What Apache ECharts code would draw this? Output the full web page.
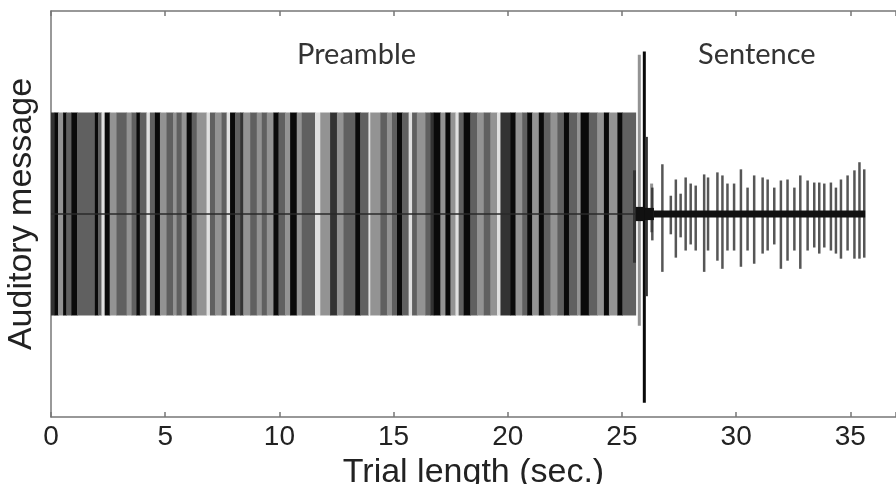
<!DOCTYPE html>
<html>
<head>
<meta charset="utf-8">
<script src="https://cdn.jsdelivr.net/npm/echarts@6/dist/echarts.min.js"></script>
<style>
    html, body { margin: 0; padding: 0; background: #fff; }
    #chart { width: 896px; height: 484px; }
</style>
</head>
<body>
<div id="chart"></div>
<script>
// x轴刻度
var xTicks = [0, 5, 10, 15, 20, 25, 30, 35]

// 前导段条纹: [开始, 结束, 灰度等级] 0黑 1深灰 2灰 3浅灰 4白
var preambleStripes = [
    [0, 0.16, 1], [0.16, 0.31, 0], [0.31, 0.53, 3], [0.53, 0.67, 0], [0.67, 0.89, 2],
    [0.89, 1.14, 0], [1.14, 1.92, 2], [1.92, 2.06, 0], [2.06, 2.21, 2], [2.21, 2.35, 4],
    [2.35, 2.57, 0], [2.57, 2.87, 3], [2.87, 3.31, 2], [3.31, 3.53, 3], [3.53, 3.74, 2],
    [3.74, 3.89, 0], [3.89, 4.18, 2], [4.18, 4.33, 4], [4.33, 4.55, 2], [4.55, 4.77, 0],
    [4.77, 5.06, 3], [5.06, 5.35, 2], [5.35, 5.5, 3], [5.5, 5.72, 2], [5.72, 5.94, 3],
    [5.94, 6.16, 0], [6.16, 6.38, 2], [6.38, 6.81, 3], [6.81, 6.96, 4], [6.96, 7.18, 2],
    [7.18, 7.47, 3], [7.47, 7.69, 2], [7.69, 7.84, 4], [7.84, 8.06, 0], [8.06, 8.28, 2],
    [8.28, 8.42, 1], [8.42, 8.72, 3], [8.72, 9.01, 2], [9.01, 9.23, 3], [9.23, 9.45, 2],
    [9.45, 9.74, 3], [9.74, 9.96, 0], [9.96, 10.25, 2], [10.25, 10.47, 3], [10.47, 10.76, 0],
    [10.76, 10.98, 3], [10.98, 11.56, 2], [11.56, 11.79, 4], [11.79, 12.22, 3], [12.22, 12.52, 1],
    [12.52, 12.81, 3], [12.81, 13.32, 2], [13.32, 13.54, 0], [13.54, 13.9, 2], [13.9, 13.98, 4],
    [13.98, 14.42, 3], [14.42, 14.71, 2], [14.71, 14.93, 3], [14.93, 15.15, 2], [15.15, 15.37, 0],
    [15.37, 15.66, 2], [15.66, 15.81, 4], [15.81, 16.02, 2], [16.02, 16.39, 3], [16.39, 16.61, 2],
    [16.61, 16.76, 1], [16.76, 17.05, 0], [17.05, 17.27, 3], [17.27, 17.49, 0], [17.49, 17.71, 3],
    [17.71, 17.85, 4], [17.85, 18.07, 2], [18.07, 18.36, 0], [18.36, 18.66, 2], [18.66, 18.95, 3],
    [18.95, 19.24, 2], [19.24, 19.53, 3], [19.53, 19.68, 4], [19.68, 20.12, 1], [20.12, 20.34, 0],
    [20.34, 20.63, 3], [20.63, 20.85, 2], [20.85, 21.07, 0], [21.07, 21.36, 3], [21.36, 21.58, 0],
    [21.58, 21.87, 2], [21.87, 22.17, 3], [22.17, 22.46, 2], [22.46, 22.68, 0], [22.68, 23.04, 2],
    [23.04, 23.19, 3], [23.19, 23.55, 0], [23.55, 23.92, 2], [23.92, 24.21, 3], [24.21, 24.43, 0],
    [24.43, 24.8, 3], [24.8, 25.02, 0], [25.02, 25.6, 2]
]
var stripeShades = ['#0a0a0a', '#333333', '#606060', '#939393', '#e0e0e0']

// 过渡处的尖峰: [时间, 上幅值, 下幅值, 灰度等级]
var onsetSpikes = [
    [25.55, 0.43, 0.48, 1], [25.76, 1.57, 1.1, 3], [25.98, 1.6, 1.86, 0],
    [26.07, 0.76, 0.81, 1], [26.3, 0.3, 0.18, 3]
]

// 句子段尖峰: [时间, 上幅值, 下幅值]
var sentenceSpikes = [
    [26.33, 0.26, 0.26], [26.77, 0.49, 0.57], [27.14, 0.18, 0.2], [27.36, 0.34, 0.43],
    [27.57, 0.2, 0.23], [27.79, 0.36, 0.36], [28.01, 0.3, 0.3], [28.23, 0.28, 0.36],
    [28.6, 0.39, 0.57], [28.77, 0.36, 0.36], [29.18, 0.41, 0.46], [29.4, 0.38, 0.54],
    [29.62, 0.3, 0.36], [29.91, 0.3, 0.36], [30.21, 0.44, 0.52], [30.5, 0.26, 0.36],
    [30.79, 0.38, 0.49], [31.16, 0.36, 0.39], [31.38, 0.34, 0.36], [31.67, 0.26, 0.3],
    [31.96, 0.33, 0.54], [32.25, 0.34, 0.46], [32.55, 0.26, 0.36], [32.81, 0.38, 0.54],
    [33.13, 0.33, 0.36], [33.42, 0.31, 0.33], [33.64, 0.31, 0.39], [33.86, 0.3, 0.33],
    [34.15, 0.31, 0.36], [34.37, 0.26, 0.39], [34.59, 0.34, 0.44], [34.88, 0.38, 0.36],
    [35.18, 0.43, 0.44], [35.4, 0.51, 0.44], [35.61, 0.44, 0.43]
]

// 零线附近的黑色噪声带: [开始, 结束, 半宽]
var sentenceBand = [
    [25.6, 26.0, 0.07], [26.0, 26.4, 0.06], [26.4, 35.65, 0.035]
]

// 前导段中线
var preambleAxis = [[0, 0], [25.6, 0]]

var chart = echarts.init(document.getElementById('chart'))

var option = {
    animation: false,
    backgroundColor: '#fff',
    grid: {
        left: 51,
        right: 0,
        top: 11,
        bottom: 67,
        outerBoundsMode: 'none'
    },
    // 标题文字
    graphic: [
        {
            type: 'text', left: 297, top: 40,
            style: { text: 'Preamble', fill: '#333', font: '29px Lato' }
        },
        {
            type: 'text', left: 698, top: 40,
            style: { text: 'Sentence', fill: '#333', font: '29px Lato' }
        }
    ],
    xAxis: [
        {
            type: 'value',
            min: 0,
            max: 37,
            interval: 5,
            name: 'Trial length (sec.)',
            nameLocation: 'middle',
            nameGap: 31,
            nameTextStyle: { fontSize: 34, color: '#222', fontFamily: 'Liberation Sans' },
            axisLine: { onZero: false, lineStyle: { color: '#777', width: 1.5 } },
            axisTick: { inside: true, length: 5, lineStyle: { color: '#777', width: 1.5 } },
            axisLabel: {
                fontSize: 28, color: '#222', fontFamily: 'Liberation Sans', margin: 6,
                customValues: xTicks
            },
            splitLine: { show: false }
        },
        {
            type: 'value',
            position: 'top',
            min: 0,
            max: 37,
            interval: 5,
            axisLine: { show: true, onZero: false, lineStyle: { color: '#777', width: 1.5 } },
            axisTick: { inside: true, length: 5, lineStyle: { color: '#777', width: 1.5 } },
            axisLabel: { show: false },
            splitLine: { show: false }
        }
    ],
    yAxis: {
        type: 'value',
        min: -2,
        max: 2,
        name: 'Auditory message',
        nameLocation: 'middle',
        nameGap: 12,
        nameTextStyle: { fontSize: 34, color: '#222', fontFamily: 'Liberation Sans' },
        axisLine: { show: true, onZero: false, lineStyle: { color: '#777', width: 1.5 } },
        axisTick: { show: false },
        axisLabel: { show: false },
        splitLine: { show: false }
    },
    series: [
        {
            // 前导段条纹
            type: 'custom',
            data: preambleStripes,
            renderItem: function (params, api) {
                var p1 = api.coord([api.value(0), 1])
                var p2 = api.coord([api.value(1), -1])
                return {
                    type: 'rect',
                    shape: { x: p1[0], y: p1[1], width: p2[0] - p1[0] + 0.5, height: p2[1] - p1[1] },
                    style: { fill: stripeShades[api.value(2)] }
                }
            }
        },
        {
            // 中线
            type: 'line',
            data: preambleAxis,
            symbol: 'none',
            lineStyle: { color: '#2a2a2a', width: 1.5 }
        },
        {
            // 过渡尖峰
            type: 'custom',
            data: onsetSpikes,
            renderItem: function (params, api) {
                var x = api.value(0)
                var p1 = api.coord([x, api.value(1)])
                var p2 = api.coord([x, -api.value(2)])
                return {
                    type: 'line',
                    shape: { x1: p1[0], y1: p1[1], x2: p2[0], y2: p2[1] },
                    style: { stroke: stripeShades[api.value(3)], lineWidth: 3 }
                }
            }
        },
        {
            // 句子段尖峰
            type: 'custom',
            data: sentenceSpikes,
            renderItem: function (params, api) {
                var x = api.value(0)
                var p1 = api.coord([x, api.value(1)])
                var p2 = api.coord([x, -api.value(2)])
                return {
                    type: 'line',
                    shape: { x1: p1[0], y1: p1[1], x2: p2[0], y2: p2[1] },
                    style: { stroke: 'rgba(30,30,30,0.75)', lineWidth: 2.5 }
                }
            }
        },
        {
            // 噪声带
            type: 'custom',
            data: sentenceBand,
            renderItem: function (params, api) {
                var p1 = api.coord([api.value(0), api.value(2)])
                var p2 = api.coord([api.value(1), -api.value(2)])
                return {
                    type: 'rect',
                    shape: { x: p1[0], y: p1[1], width: p2[0] - p1[0], height: p2[1] - p1[1] },
                    style: { fill: '#111' }
                }
            }
        }
    ]
}

chart.setOption(option)
</script>
</body>
</html>
